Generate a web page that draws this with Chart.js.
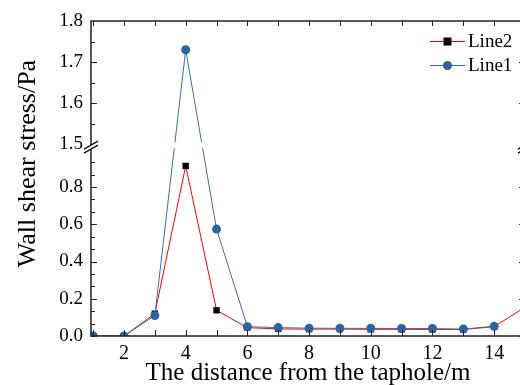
<!DOCTYPE html>
<html>
<head>
<meta charset="utf-8">
<script src="https://cdn.jsdelivr.net/npm/chart.js@4/dist/chart.umd.min.js"></script>
<style>
html,body{margin:0;padding:0;background:#fff;overflow:hidden;width:520px;height:385px;}
#wrap{position:absolute;left:0;top:0;width:540px;height:385px;}
</style>
</head>
<body>
<div id="wrap"><canvas id="c" width="540" height="385"></canvas></div>
<script>
// ---- data ----
const X_VALUES = [1, 2, 3, 4, 5, 6, 7, 8, 9, 10, 11, 12, 13, 14, 15];
const LINE2 = [0.0, 0.0, 0.12, 0.913, 0.138, 0.045, 0.038, 0.037, 0.037, 0.036, 0.036, 0.035, 0.035, 0.05, 0.155];
const LINE1 = [0.0, 0.0, 0.11, 1.73, 0.574, 0.05, 0.045, 0.042, 0.041, 0.041, 0.04, 0.04, 0.037, 0.052, null];
const SERIES_NAMES = ['Line2', 'Line1'];
const X_TICK_LABELS = [2, 4, 6, 8, 10, 12, 14];
const Y_TICK_LABELS = [0.0, 0.2, 0.4, 0.6, 0.8, 1.5, 1.6, 1.7, 1.8];
const Y_LOWER = [0, 1.03];
const Y_UPPER = [1.5, 1.8];
const BREAK_FRAC = 0.609;
const X_TITLE = 'The distance from the taphole/m';
const Y_TITLE = 'Wall shear stress/Pa';

const FONT = '"Liberation Serif", "Times New Roman", serif';
const RED = '#ff0000';
const BLUE = '#3a6ea8';
const BLUE_MARK = '#2f64a0';

// ---- broken linear scale ----
class BrokenScale extends Chart.LinearScale {
  buildTicks() { return Y_TICK_LABELS.map(v => ({ value: v })); }
  _frac(v) {
    if (v <= Y_LOWER[1]) return (v - Y_LOWER[0]) / (Y_LOWER[1] - Y_LOWER[0]) * BREAK_FRAC;
    if (v >= Y_UPPER[0]) return BREAK_FRAC + (v - Y_UPPER[0]) / (Y_UPPER[1] - Y_UPPER[0]) * (1 - BREAK_FRAC);
    return BREAK_FRAC;
  }
  getPixelForValue(v) { return this.bottom - this._frac(v) * (this.bottom - this.top); }
  getValueForPixel(p) {
    const f = (this.bottom - p) / (this.bottom - this.top);
    if (f <= BREAK_FRAC) return Y_LOWER[0] + f / BREAK_FRAC * (Y_LOWER[1] - Y_LOWER[0]);
    return Y_UPPER[0] + (f - BREAK_FRAC) / (1 - BREAK_FRAC) * (Y_UPPER[1] - Y_UPPER[0]);
  }
}
BrokenScale.id = 'broken';
BrokenScale.defaults = {};
Chart.register(BrokenScale);

const pts = arr => X_VALUES.map((x, i) => ({ x: x, y: arr[i] }));

// ---- decorations plugin: frame, inward ticks, axis break, legend, y title ----
const deco = {
  id: 'deco',
  afterDatasetsDraw(chart) {
    const { ctx, chartArea: a } = chart;
    const ys = chart.scales.y;
    const yb = ys.getPixelForValue(Y_UPPER[0]);
    ctx.save();
    ctx.fillStyle = '#fff';
    ctx.fillRect(a.left + 1, yb - 2, a.right - a.left - 2, 6);
    ctx.restore();
  },
  afterDraw(chart) {
    const { ctx, chartArea: a } = chart;
    const xs = chart.scales.x, ys = chart.scales.y;
    ctx.save();
    ctx.strokeStyle = '#222';
    ctx.lineWidth = 1.5;
    ctx.strokeRect(a.left, a.top, a.right - a.left, a.bottom - a.top);
    ctx.lineWidth = 1;
    // x ticks (bottom & top), inward
    for (let v = 1; v <= 15; v++) {
      const px = Math.round(xs.getPixelForValue(v)) + 0.5;
      ctx.beginPath();
      ctx.moveTo(px, a.bottom); ctx.lineTo(px, a.bottom - 6);
      ctx.moveTo(px, a.top); ctx.lineTo(px, a.top + 5);
      ctx.stroke();
    }
    // y ticks
    const yt = [];
    for (let k = 0; k <= 15; k++) { const v = k * 0.2 / 3; if (v <= 0.95) yt.push([v, k % 3 === 0]); }
    [1.55, 1.6, 1.65, 1.7, 1.75].forEach((v, i) => yt.push([v, i % 2 === 1]));
    yt.forEach(([v, major]) => {
      const py = Math.round(ys.getPixelForValue(v)) + 0.5;
      ctx.beginPath();
      ctx.moveTo(a.left, py); ctx.lineTo(a.left + (major ? 6 : 4), py);
      ctx.moveTo(a.right, py); ctx.lineTo(a.right - (major ? 6 : 4), py);
      ctx.stroke();
    });
    // axis break marks
    const yb = ys.getPixelForValue(Y_UPPER[0]) + 3;
    [a.left, a.right].forEach(xa => {
      ctx.fillStyle = '#fff';
      ctx.beginPath();
      ctx.moveTo(xa - 7, yb + 2); ctx.lineTo(xa + 7, yb - 6);
      ctx.lineTo(xa + 7, yb - 2); ctx.lineTo(xa - 7, yb + 6);
      ctx.closePath(); ctx.fill();
      ctx.strokeStyle = '#111';
      ctx.lineWidth = 1.3;
      ctx.beginPath();
      ctx.moveTo(xa - 7, yb + 2); ctx.lineTo(xa + 7, yb - 6);
      ctx.moveTo(xa - 7, yb + 6); ctx.lineTo(xa + 7, yb - 2);
      ctx.stroke();
    });
    // legend
    const items = [
      { name: SERIES_NAMES[0], line: RED, mark: 'sq', y: 41 },
      { name: SERIES_NAMES[1], line: BLUE, mark: 'ci', y: 65 }
    ];
    ctx.font = '19px ' + FONT;
    ctx.textBaseline = 'alphabetic';
    ctx.textAlign = 'left';
    items.forEach(it => {
      ctx.strokeStyle = it.line;
      ctx.lineWidth = 1;
      ctx.beginPath(); ctx.moveTo(430, it.y + 0.5); ctx.lineTo(465, it.y + 0.5); ctx.stroke();
      if (it.mark === 'sq') { ctx.fillStyle = '#000'; ctx.fillRect(443.5, it.y - 3.5, 8, 8); }
      else { ctx.fillStyle = BLUE_MARK; ctx.beginPath(); ctx.arc(447.5, it.y + 0.5, 4.5, 0, Math.PI * 2); ctx.fill(); }
      ctx.fillStyle = '#000';
      ctx.fillText(it.name, 468, it.y + 6);
    });
    // y axis title
    ctx.translate(35, 163.5);
    ctx.rotate(-Math.PI / 2);
    ctx.font = '26px ' + FONT;
    ctx.textAlign = 'center';
    ctx.textBaseline = 'alphabetic';
    ctx.fillStyle = '#000';
    ctx.fillText(Y_TITLE, 0, 0);
    ctx.restore();
  }
};

new Chart(document.getElementById('c'), {
  type: 'line',
  data: {
    datasets: [
      { label: SERIES_NAMES[0], data: pts(LINE2), borderColor: RED, borderWidth: 1,
        pointStyle: 'rect', pointRadius: 4.5, pointBackgroundColor: '#000', pointBorderColor: '#000', pointBorderWidth: 0,
        tension: 0, order: 1 },
      { label: SERIES_NAMES[1], data: pts(LINE1), borderColor: BLUE, borderWidth: 1,
        pointStyle: 'circle', pointRadius: 4.5, pointBackgroundColor: BLUE_MARK, pointBorderColor: BLUE_MARK, pointBorderWidth: 0,
        tension: 0, order: 0 }
    ]
  },
  options: {
    responsive: false,
    animation: false,
    events: [],
    layout: { padding: { top: 21, right: 15, left: 0, bottom: 0 } },
    plugins: { legend: { display: false }, tooltip: { enabled: false } },
    scales: {
      x: {
        type: 'linear', min: 0.93, max: 15,
        afterBuildTicks: s => { s.ticks = X_TICK_LABELS.map(v => ({ value: v })); },
        afterFit: s => { s.height = 49; },
        grid: { display: false, drawTicks: false },
        border: { display: false },
        ticks: { autoSkip: false, maxRotation: 0, padding: 6, color: '#000', font: { family: FONT, size: 20 }, callback: v => String(v) },
        title: { display: true, text: X_TITLE, color: '#000', font: { family: FONT, size: 25, lineHeight: 0.9 }, padding: 0 }
      },
      y: {
        type: 'broken', min: 0, max: 1.8,
        afterFit: s => { s.width = 91; },
        grid: { display: false, drawTicks: false },
        border: { display: false },
        ticks: { autoSkip: false, padding: 8, color: '#000', font: { family: FONT, size: 19 }, callback: v => Number(v).toFixed(1) },
        title: { display: false }
      }
    }
  },
  plugins: [deco]
});
</script>
</body>
</html>
